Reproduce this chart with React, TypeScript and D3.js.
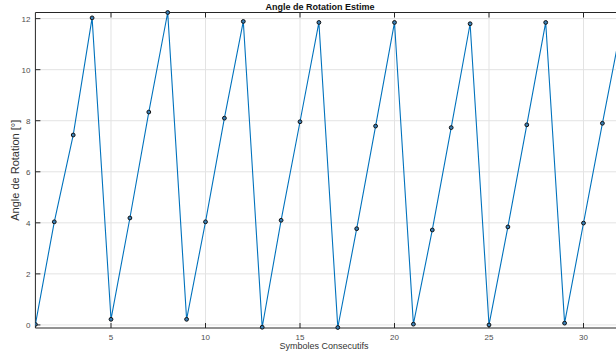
import React from "react";
import * as d3 from "d3";

const symbols: number[] = Array.from({ length: 32 }, (_, i) => i + 1);
const angles: number[] = [
  0.02, 4.04, 7.44, 12.03, 0.22, 4.19, 8.34, 12.24,
  0.22, 4.04, 8.1, 11.89, -0.09, 4.1, 7.96, 11.85,
  -0.1, 3.77, 7.79, 11.85, 0.03, 3.72, 7.73, 11.8,
  0.0, 3.84, 7.84, 11.85, 0.07, 3.99, 7.9, 11.7,
];
const xTicks: number[] = [5, 10, 15, 20, 25, 30];
const yTicks: number[] = [0, 2, 4, 6, 8, 10, 12];
const title = "Angle de Rotation Estime";
const xLabel = "Symboles Consecutifs";
const yLabel = "Angle de Rotation [°]";

export default function App() {
  const W = 616, H = 355;
  const left = 35.4, top = 12.5, bottom = 328;
  const xScale = d3.scaleLinear().domain([1, 32]).range([left, left + 31 * 18.9]);
  const yScale = d3.scaleLinear().domain([-0.12, 12.24]).range([bottom, top]);
  const right = xScale(32);
  const pts = symbols.map((s, i) => [s, angles[i]] as [number, number]);
  const line = d3.line<[number, number]>().x(d => xScale(d[0])).y(d => yScale(d[1]));
  const font = "'Liberation Sans', Arial, Helvetica, sans-serif";
  const axisColor = "#262626";
  const tickLen = 5;
  return (
    <svg width={W} height={H} style={{ position: "absolute", left: 0, top: 0 }} fontFamily={font}>
      <rect x={0} y={0} width={W} height={H} fill="#fff" />
      <defs>
        <clipPath id="plotclip">
          <rect x={left} y={top - 5} width={right - left} height={bottom - top + 10} />
        </clipPath>
      </defs>
      {/* grid */}
      {xTicks.map(t => (
        <line key={"gx" + t} x1={xScale(t)} x2={xScale(t)} y1={top} y2={bottom} stroke="#e3e3e3" strokeWidth={1} />
      ))}
      {yTicks.map(t => (
        <line key={"gy" + t} x1={left} x2={right} y1={yScale(t)} y2={yScale(t)} stroke="#e3e3e3" strokeWidth={1} />
      ))}
      {/* box */}
      <line x1={left} x2={right} y1={bottom} y2={bottom} stroke={axisColor} strokeWidth={1} />
      <line x1={left} x2={right} y1={top} y2={top} stroke={axisColor} strokeWidth={1} />
      <line x1={left} x2={left} y1={top} y2={bottom} stroke={axisColor} strokeWidth={1} />
      {/* ticks */}
      {xTicks.map(t => (
        <g key={"tx" + t}>
          <line x1={xScale(t)} x2={xScale(t)} y1={bottom} y2={bottom - tickLen} stroke={axisColor} />
          <line x1={xScale(t)} x2={xScale(t)} y1={top} y2={top + tickLen} stroke={axisColor} />
          <text x={xScale(t)} y={bottom + 12} textAnchor="middle" fontSize={8} fill="#4d4d4d">{t}</text>
        </g>
      ))}
      {yTicks.map(t => (
        <g key={"ty" + t}>
          <line x1={left} x2={left + tickLen} y1={yScale(t)} y2={yScale(t)} stroke={axisColor} />
          <text x={left - 5} y={yScale(t) + 3} textAnchor="end" fontSize={8} fill="#4d4d4d">{t}</text>
        </g>
      ))}
      {/* data */}
      <g clipPath="url(#plotclip)">
        <path d={line(pts) || ""} fill="none" stroke="#0072BD" strokeWidth={1.1} />
        {pts.map((p, i) => (
          <circle key={i} cx={xScale(p[0])} cy={yScale(p[1])} r={1.9} fill="#3a7fb5" stroke="#111" strokeWidth={1} />
        ))}
      </g>
      {/* labels */}
      <text x={320} y={10} textAnchor="middle" fontSize={9} fontWeight="bold" fill="#111">{title}</text>
      <text x={324} y={349} textAnchor="middle" fontSize={9} fill="#333">{xLabel}</text>
      <text transform={`translate(19,${(top + bottom) / 2}) rotate(-90)`} textAnchor="middle" fontSize={11} fill="#333">{yLabel}</text>
    </svg>
  );
}
